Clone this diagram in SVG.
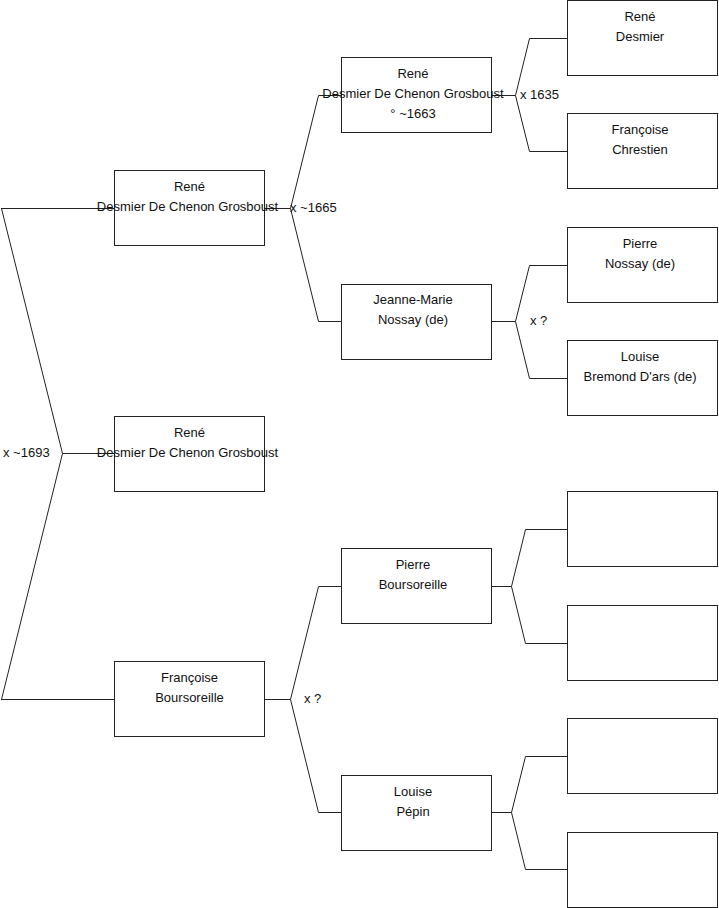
<svg xmlns="http://www.w3.org/2000/svg" width="719" height="908" viewBox="0 0 719 908">
<style>
.c{fill:none;stroke:#222;stroke-width:1}
.b{fill:#fff;stroke:#222;stroke-width:1}
.t{font-family:"Liberation Sans",Arial,sans-serif;font-size:13px;fill:#111;text-anchor:middle}
.l{font-family:"Liberation Sans",Arial,sans-serif;font-size:13px;fill:#111}
</style>
<rect width="719" height="908" fill="#fff"/>
<g id="connectors">
<path class="c" d="M114,453.5H62.5M1.5,208.5L62.5,453.5L1.5,699.5M1,208.5H114M1,699.5H114"/>
<path class="c" d="M265,208.5H290.5M341,95.5H318.5L290.5,208.5L318.5,321.5H341"/>
<path class="c" d="M265,699.5H290.5M341,586.5H318.5L290.5,699.5L318.5,812.5H341"/>
<path class="c" d="M491,95.5H515.5M567,38.5H529.5L515.5,95.5L529.5,151.5H567"/>
<path class="c" d="M491,321.5H515.5M567,265.5H529.5L515.5,321.5L529.5,378.5H567"/>
<path class="c" d="M491,586.5H511.5M567,529.5H525.5L511.5,586.5L525.5,643.5H567"/>
<path class="c" d="M491,812.5H511.5M567,756.5H525.5L511.5,812.5L525.5,869.5H567"/>
<text class="l" x="3" y="457">x ~1693</text>
<text class="l" x="290" y="212">x ~1665</text>
<text class="l" x="304" y="703">x ?</text>
<text class="l" x="520" y="99">x 1635</text>
<text class="l" x="530" y="325">x ?</text>
</g>
<g id="n1"><rect class="b" x="114.5" y="416.5" width="150" height="75"/><text class="t" x="189.5" y="437">René</text><text class="t" x="187.5" y="457">Desmier De Chenon Grosboust</text></g>
<g id="n2"><rect class="b" x="114.5" y="170.5" width="150" height="75"/><text class="t" x="189.5" y="191">René</text><text class="t" x="187.5" y="211">Desmier De Chenon Grosboust</text></g>
<g id="n3"><rect class="b" x="114.5" y="661.5" width="150" height="75"/><text class="t" x="189.5" y="682">Françoise</text><text class="t" x="189.5" y="702">Boursoreille</text></g>
<g id="n4"><rect class="b" x="341.5" y="57.5" width="150" height="75"/><text class="t" x="413" y="78">René</text><text class="t" x="413" y="98">Desmier De Chenon Grosboust</text><text class="t" x="413" y="118">° ~1663</text></g>
<g id="n5"><rect class="b" x="341.5" y="284.5" width="150" height="75"/><text class="t" x="413" y="304">Jeanne-Marie</text><text class="t" x="413" y="324">Nossay (de)</text></g>
<g id="n6"><rect class="b" x="341.5" y="548.5" width="150" height="75"/><text class="t" x="413" y="569">Pierre</text><text class="t" x="413" y="589">Boursoreille</text></g>
<g id="n7"><rect class="b" x="341.5" y="775.5" width="150" height="75"/><text class="t" x="413" y="796">Louise</text><text class="t" x="413" y="816">Pépin</text></g>
<g id="n8"><rect class="b" x="567.5" y="0.5" width="150" height="75"/><text class="t" x="640" y="21">René</text><text class="t" x="640" y="41">Desmier</text></g>
<g id="n9"><rect class="b" x="567.5" y="113.5" width="150" height="75"/><text class="t" x="640" y="134">Françoise</text><text class="t" x="640" y="154">Chrestien</text></g>
<g id="n10"><rect class="b" x="567.5" y="227.5" width="150" height="75"/><text class="t" x="640" y="248">Pierre</text><text class="t" x="640" y="268">Nossay (de)</text></g>
<g id="n11"><rect class="b" x="567.5" y="340.5" width="150" height="75"/><text class="t" x="640" y="361">Louise</text><text class="t" x="640" y="381">Bremond D'ars (de)</text></g>
<g id="n12"><rect class="b" x="567.5" y="491.5" width="150" height="75"/></g>
<g id="n13"><rect class="b" x="567.5" y="605.5" width="150" height="75"/></g>
<g id="n14"><rect class="b" x="567.5" y="718.5" width="150" height="75"/></g>
<g id="n15"><rect class="b" x="567.5" y="832.5" width="150" height="75"/></g>
</svg>
